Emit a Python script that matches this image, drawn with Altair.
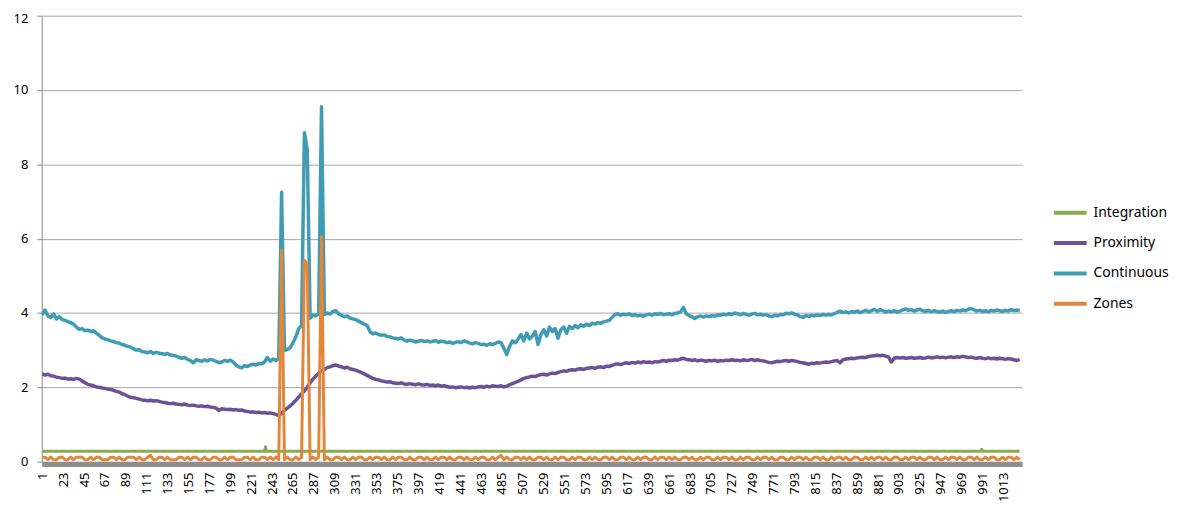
import altair as alt
import pandas as pd

series_names = ["Integration", "Proximity", "Continuous", "Zones"]
series_colors = ["#8aab50", "#695296", "#409bb4", "#e2863a"]

x_tick_labels = [1, 23, 45, 67, 89, 111, 133, 155, 177, 199, 221, 243, 265, 287,
                 309, 331, 353, 375, 397, 419, 441, 463, 485, 507, 529, 551, 573,
                 595, 617, 639, 661, 683, 705, 727, 749, 771, 793, 815, 837, 859,
                 881, 903, 925, 947, 969, 991, 1013]
y_ticks = [0, 2, 4, 6, 8, 10, 12]

# categories read every third step
sample_cats = list(range(1, 1031, 3))

integration_cats = [1, 235, 236, 237, 989, 990, 991, 1030]
integration_vals = [0.28, 0.28, 0.4, 0.28, 0.28, 0.33, 0.28, 0.28]

continuous_vals = [
    3.95, 4.08, 3.92, 3.88, 3.97, 3.84, 3.9, 3.82, 3.8, 3.77,
    3.74, 3.7, 3.62, 3.56, 3.58, 3.52, 3.54, 3.5, 3.52, 3.46,
    3.4, 3.33, 3.3, 3.28, 3.25, 3.23, 3.2, 3.19, 3.15, 3.13,
    3.1, 3.08, 3.04, 3.0, 3.01, 2.96, 2.95, 2.93, 2.96, 2.91,
    2.94, 2.92, 2.9, 2.89, 2.91, 2.87, 2.86, 2.84, 2.8, 2.78,
    2.8, 2.75, 2.72, 2.66, 2.74, 2.72, 2.7, 2.74, 2.71, 2.75,
    2.73, 2.7, 2.66, 2.68, 2.72, 2.7, 2.73, 2.68, 2.6, 2.55,
    2.52, 2.58, 2.56, 2.6, 2.62, 2.6, 2.64, 2.63, 2.68, 2.8,
    2.7, 2.76, 2.72, 2.78, 7.25, 2.99, 3.02, 3.06, 3.2, 3.36,
    3.58, 3.66, 8.85, 8.4, 3.86, 3.95, 3.92, 3.98, 9.55, 3.96,
    4.0, 3.97, 4.04, 4.06, 3.98, 3.94, 3.9, 3.92, 3.86, 3.84,
    3.82, 3.78, 3.74, 3.7, 3.66, 3.5, 3.44, 3.46, 3.42, 3.4,
    3.41, 3.37, 3.36, 3.33, 3.32, 3.3, 3.33, 3.27, 3.24, 3.27,
    3.25, 3.22, 3.24, 3.26, 3.23, 3.25, 3.22, 3.24, 3.26, 3.21,
    3.24, 3.23, 3.2, 3.22, 3.18, 3.21, 3.23, 3.2, 3.25, 3.22,
    3.19, 3.17, 3.2, 3.18, 3.15, 3.16, 3.13, 3.17, 3.15, 3.18,
    3.22, 3.2, 3.05, 2.88, 3.1, 3.25, 3.2, 3.3, 3.42, 3.25,
    3.46, 3.3, 3.38, 3.5, 3.15, 3.42, 3.55, 3.38, 3.62, 3.5,
    3.58, 3.32, 3.55, 3.62, 3.45, 3.64, 3.58, 3.66, 3.6, 3.68,
    3.64, 3.7, 3.66, 3.72, 3.7, 3.74, 3.72, 3.76, 3.78, 3.8,
    3.88, 3.96, 3.98, 3.94, 3.97, 3.95, 3.98, 3.93, 3.96, 3.92,
    3.94, 3.91, 3.95, 3.97, 3.94, 3.98, 3.96, 3.99, 3.95, 3.97,
    3.98, 3.95, 3.99, 4.0, 4.03, 4.15, 3.98, 3.93, 3.9, 3.85,
    3.9, 3.92, 3.89, 3.92, 3.9, 3.93, 3.91, 3.95, 3.94, 3.97,
    3.95, 3.98, 3.96, 4.0, 3.98, 3.95, 3.99, 3.96, 3.94, 3.97,
    3.99, 3.95, 3.97, 3.94, 3.96, 3.92, 3.9, 3.94, 3.92, 3.96,
    3.95, 3.99, 3.98, 4.0, 3.97, 3.95, 3.9, 3.88, 3.93, 3.91,
    3.94, 3.92, 3.95, 3.93, 3.96, 3.94, 3.96, 3.95, 3.98, 4.02,
    4.05, 4.01, 4.03, 4.0, 4.04, 4.02, 4.05, 4.01, 4.04, 4.07,
    4.03, 4.06, 4.1, 4.04, 4.09, 4.06, 4.02, 4.05, 4.03, 4.06,
    4.02, 4.05, 4.08, 4.11, 4.07, 4.09, 4.05, 4.08, 4.1, 4.06,
    4.04, 4.07, 4.03, 4.06, 4.04, 4.02, 4.05, 4.01, 4.04, 4.06,
    4.03, 4.07, 4.05, 4.08, 4.06, 4.1, 4.12, 4.08, 4.05, 4.07,
    4.04, 4.06, 4.03, 4.07, 4.05, 4.08, 4.06, 4.04, 4.07, 4.05,
    4.09, 4.06, 4.08, 4.06,
]

proximity_vals = [
    2.36, 2.33, 2.35, 2.31, 2.3, 2.27, 2.26, 2.24, 2.25, 2.22,
    2.23, 2.21, 2.24, 2.22, 2.17, 2.12, 2.08, 2.06, 2.04, 2.01,
    2.0, 1.98, 1.97, 1.95, 1.94, 1.92, 1.89, 1.87, 1.83, 1.8,
    1.76, 1.73, 1.72, 1.7, 1.68, 1.66, 1.65, 1.64, 1.65, 1.63,
    1.64, 1.62, 1.6, 1.59, 1.57, 1.56, 1.57, 1.55, 1.54, 1.53,
    1.55, 1.52, 1.51, 1.52, 1.5, 1.49, 1.5, 1.48, 1.49, 1.47,
    1.46, 1.44, 1.38, 1.42, 1.41, 1.4, 1.41, 1.39, 1.4, 1.38,
    1.39, 1.36, 1.35, 1.33, 1.34, 1.32, 1.33, 1.31, 1.32, 1.3,
    1.31, 1.29, 1.27, 1.24, 1.3, 1.38, 1.44, 1.5, 1.57, 1.65,
    1.74, 1.82, 1.9, 2.0, 2.12, 2.22, 2.3, 2.38, 2.44, 2.48,
    2.53, 2.55, 2.58, 2.6, 2.57, 2.55, 2.52, 2.54, 2.5, 2.48,
    2.46, 2.43, 2.4, 2.36, 2.32, 2.28, 2.24, 2.21, 2.2, 2.17,
    2.16, 2.14, 2.15, 2.12, 2.11, 2.1, 2.12, 2.09, 2.08, 2.1,
    2.08, 2.07, 2.09, 2.07, 2.06, 2.08, 2.05, 2.06, 2.04, 2.06,
    2.03, 2.04, 2.02, 2.0, 2.01, 1.99, 2.0, 2.01, 1.99, 2.0,
    1.98, 2.0, 1.99, 2.01, 2.02, 2.0, 2.03, 2.01, 2.04, 2.03,
    2.02, 2.04, 2.01, 2.03, 2.07, 2.1, 2.13, 2.16, 2.2, 2.24,
    2.26, 2.28, 2.3, 2.29, 2.32, 2.34, 2.35, 2.33, 2.36, 2.38,
    2.37, 2.4, 2.42, 2.44, 2.43, 2.46, 2.47, 2.46, 2.49, 2.5,
    2.48, 2.51, 2.52, 2.53, 2.51, 2.54, 2.55, 2.53, 2.57, 2.56,
    2.59, 2.62, 2.63, 2.61, 2.64, 2.66, 2.64, 2.67, 2.65, 2.68,
    2.66, 2.69, 2.67, 2.68, 2.66, 2.69, 2.68, 2.7, 2.72, 2.7,
    2.73, 2.72, 2.74, 2.73, 2.76, 2.78, 2.75, 2.74, 2.72, 2.74,
    2.71, 2.73, 2.72, 2.7, 2.72, 2.71, 2.73, 2.7, 2.72, 2.71,
    2.73, 2.72, 2.74, 2.72, 2.73, 2.71, 2.74, 2.72, 2.73, 2.75,
    2.72, 2.74, 2.72, 2.71, 2.69, 2.67, 2.66, 2.68, 2.7, 2.69,
    2.71, 2.72, 2.7, 2.72, 2.71, 2.69, 2.67, 2.66, 2.64, 2.62,
    2.65, 2.64, 2.66, 2.65, 2.67, 2.68, 2.67, 2.69, 2.71, 2.72,
    2.66, 2.74, 2.76, 2.77, 2.78, 2.77, 2.79, 2.8, 2.81, 2.8,
    2.83, 2.84, 2.85, 2.86, 2.85, 2.86, 2.84, 2.81, 2.68, 2.78,
    2.8, 2.79, 2.8, 2.78, 2.79, 2.8, 2.78, 2.79, 2.8, 2.78,
    2.79, 2.81, 2.79, 2.8, 2.82, 2.8, 2.81, 2.79, 2.81, 2.82,
    2.8, 2.82, 2.81, 2.83, 2.82, 2.8, 2.81, 2.79, 2.78, 2.8,
    2.78, 2.77, 2.79, 2.77, 2.78, 2.76, 2.78, 2.77, 2.75, 2.77,
    2.76, 2.74, 2.72, 2.75,
]

zones_vals = [
    0.12, 0.12, 0.05, 0.12, 0.05, 0.05, 0.12, 0.12, 0.05, 0.05,
    0.12, 0.05, 0.12, 0.12, 0.12, 0.05, 0.05, 0.12, 0.05, 0.12,
    0.12, 0.05, 0.05, 0.05, 0.12, 0.12, 0.05, 0.12, 0.05, 0.05,
    0.12, 0.12, 0.12, 0.05, 0.12, 0.05, 0.05, 0.12, 0.17, 0.05,
    0.05, 0.12, 0.12, 0.05, 0.12, 0.05, 0.05, 0.05, 0.12, 0.12,
    0.05, 0.12, 0.05, 0.12, 0.12, 0.05, 0.05, 0.12, 0.05, 0.05,
    0.12, 0.12, 0.05, 0.05, 0.12, 0.05, 0.12, 0.12, 0.05, 0.05,
    0.05, 0.12, 0.12, 0.05, 0.12, 0.05, 0.05, 0.12, 0.12, 0.05,
    0.12, 0.05, 0.12, 0.05, 5.7, 0.05, 0.12, 0.05, 0.05, 0.12,
    0.05, 0.12, 5.42, 5.3, 0.05, 0.12, 0.05, 0.12, 6.05, 0.05,
    0.12, 0.05, 0.05, 0.12, 0.12, 0.05, 0.12, 0.05, 0.05, 0.12,
    0.05, 0.12, 0.12, 0.05, 0.05, 0.12, 0.05, 0.12, 0.12, 0.05,
    0.12, 0.05, 0.05, 0.12, 0.05, 0.12, 0.12, 0.05, 0.05, 0.12,
    0.05, 0.05, 0.12, 0.12, 0.05, 0.12, 0.05, 0.05, 0.12, 0.05,
    0.12, 0.12, 0.05, 0.12, 0.05, 0.05, 0.12, 0.12, 0.05, 0.12,
    0.05, 0.05, 0.12, 0.05, 0.12, 0.12, 0.05, 0.05, 0.12, 0.05,
    0.12, 0.17, 0.05, 0.12, 0.05, 0.05, 0.12, 0.12, 0.05, 0.12,
    0.05, 0.12, 0.05, 0.05, 0.12, 0.12, 0.05, 0.12, 0.05, 0.05,
    0.12, 0.05, 0.12, 0.12, 0.05, 0.05, 0.12, 0.05, 0.12, 0.12,
    0.05, 0.05, 0.12, 0.05, 0.12, 0.05, 0.05, 0.12, 0.12, 0.05,
    0.12, 0.05, 0.05, 0.12, 0.12, 0.05, 0.12, 0.05, 0.05, 0.12,
    0.05, 0.12, 0.12, 0.05, 0.05, 0.12, 0.05, 0.12, 0.12, 0.05,
    0.12, 0.05, 0.12, 0.05, 0.05, 0.12, 0.12, 0.05, 0.12, 0.05,
    0.05, 0.12, 0.05, 0.12, 0.12, 0.05, 0.05, 0.12, 0.05, 0.12,
    0.12, 0.05, 0.12, 0.05, 0.05, 0.12, 0.05, 0.12, 0.12, 0.05,
    0.05, 0.12, 0.05, 0.12, 0.12, 0.05, 0.12, 0.05, 0.05, 0.12,
    0.12, 0.05, 0.05, 0.12, 0.05, 0.12, 0.12, 0.05, 0.12, 0.05,
    0.05, 0.12, 0.12, 0.05, 0.12, 0.05, 0.05, 0.12, 0.05, 0.12,
    0.12, 0.05, 0.12, 0.05, 0.05, 0.12, 0.12, 0.05, 0.05, 0.12,
    0.05, 0.12, 0.05, 0.12, 0.12, 0.05, 0.12, 0.05, 0.05, 0.12,
    0.12, 0.05, 0.05, 0.12, 0.05, 0.12, 0.12, 0.05, 0.12, 0.05,
    0.05, 0.12, 0.12, 0.05, 0.12, 0.05, 0.05, 0.12, 0.05, 0.12,
    0.12, 0.05, 0.12, 0.05, 0.05, 0.12, 0.12, 0.05, 0.12, 0.05,
    0.05, 0.12, 0.05, 0.12, 0.12, 0.05, 0.05, 0.12, 0.05, 0.12,
    0.12, 0.05, 0.12, 0.05,
]


def frame(name, cats, vals):
    n = min(len(cats), len(vals))
    return pd.DataFrame({"cat": cats[:n], "value": vals[:n], "series": name})


data = pd.concat([
    frame("Integration", integration_cats, integration_vals),
    frame("Proximity", sample_cats, proximity_vals),
    frame("Continuous", sample_cats, continuous_vals),
    frame("Zones", sample_cats, zones_vals),
], ignore_index=True)

FONT = "Noto Sans"
widths = {"Integration": 3, "Proximity": 3.5, "Continuous": 3.5, "Zones": 3}

x_enc = alt.X(
    "cat:Q",
    scale=alt.Scale(domain=[0.5, 1032.5], nice=False, zero=False),
    axis=alt.Axis(values=x_tick_labels, format="d", labelAngle=270, grid=False,
                  ticks=False, domainColor="#8f8f8f", domainWidth=5, offset=2.5,
                  labelPadding=8, labelFont=FONT, labelFontSize=13,
                  labelColor="#000000", labelOverlap=False, title=None),
)
y_enc = alt.Y(
    "value:Q",
    scale=alt.Scale(domain=[0, 12], nice=False),
    axis=alt.Axis(values=y_ticks, grid=True, gridColor="#a6a6a6", gridWidth=1,
                  domainColor="#8c8c8c", tickColor="#8c8c8c", tickSize=5,
                  labelPadding=9, labelFont=FONT, labelFontSize=13,
                  labelColor="#000000", title=None,
                  labelOffset={"condition": {"test": "datum.value === 12", "value": 3},
                               "value": 0}),
)
color_enc = alt.Color(
    "series:N",
    scale=alt.Scale(domain=series_names, range=series_colors),
    legend=alt.Legend(title=None, orient="none", legendX=1017, legendY=180,
                      symbolType="stroke", symbolSize=1089, symbolStrokeWidth=4,
                      labelFont=FONT, labelFontSize=14, labelColor="#000000",
                      rowPadding=3.5, labelOffset=5, padding=0),
)

layers = []
for name in series_names:
    layers.append(
        alt.Chart(data)
        .transform_filter(alt.datum.series == name)
        .mark_line(strokeWidth=widths[name], strokeJoin="round")
        .encode(x=x_enc, y=y_enc, color=color_enc, order="cat:Q")
    )

chart = (
    alt.layer(*layers)
    .properties(
        width=987, height=449,
        padding={"left": 34, "top": 6, "right": 152, "bottom": 47},
        autosize=alt.AutoSizeParams(type="none"),
    )
    .configure_view(stroke=None)
)

chart.save("out.html", embed_options={"renderer": "svg", "actions": False})
